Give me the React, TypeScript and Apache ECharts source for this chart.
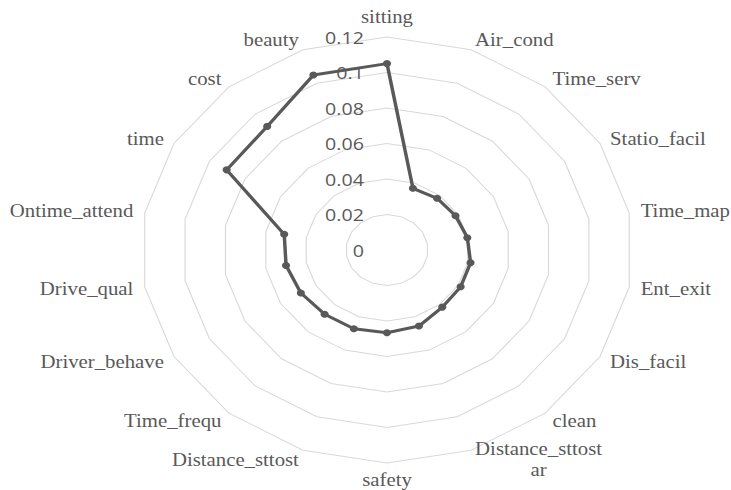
import React, { useEffect, useRef } from 'react';
import * as echarts from 'echarts';

// Categories listed clockwise starting from the top of the chart
const CATEGORIES = [
  'sitting', 'Air_cond', 'Time_serv', 'Statio_facil', 'Time_map', 'Ent_exit',
  'Dis_facil', 'clean', 'Distance_sttostar', 'safety', 'Distance_sttost', 'Time_frequ',
  'Driver_behave', 'Drive_qual', 'Ontime_attend', 'time', 'cost', 'beauty',
];
const VALUES = [
  0.105, 0.037, 0.038, 0.0386, 0.0398, 0.0414,
  0.0415, 0.042, 0.0456, 0.0466, 0.0472, 0.0473,
  0.0485, 0.05, 0.0509, 0.0903, 0.0909, 0.1049,
];
const TICKS = [0, 0.02, 0.04, 0.06, 0.08, 0.1, 0.12];
const TICK_LABELS = ['0', '0.02', '0.04', '0.06', '0.08', '0.1', '0.12'];

const STRETCH = 1.155;
const W = 731;
const H = 490;
const WRAP = 15;

export default function App() {
  const ref = useRef<HTMLDivElement>(null);
  useEffect(() => {
    if (!ref.current) return;
    const chart = echarts.init(ref.current, null, { renderer: 'svg' });
    // ECharts radar runs counter-clockwise: reorder so the layout reads clockwise
    const order = [0, ...CATEGORIES.map((_, i) => i).slice(1).reverse()];
    const bottomName = CATEGORIES[CATEGORIES.length / 2];
    const max = TICKS[TICKS.length - 1];
    const indicator = order.map((i, k) => {
      const ind: any = { name: CATEGORIES[i], min: 0, max };
      if (k === 0) {
        ind.axisLabel = {
          show: true,
          color: '#595959',
          fontFamily: 'Open Sans',
          fontSize: 17,
          margin: 20,
          formatter: (v: number) => {
            const idx = TICKS.findIndex((t) => Math.abs(t - v) < 1e-9);
            return idx >= 0 ? TICK_LABELS[idx] : '';
          },
        };
      }
      return ind;
    });
    const nameStyle = {
      color: '#595959',
      fontFamily: 'Liberation Serif',
      fontSize: 18,
      lineHeight: 21,
    };
    chart.setOption({
      animation: false,
      radar: {
        center: [387 / STRETCH, 250],
        radius: 213,
        startAngle: 90,
        splitNumber: TICKS.length - 1,
        shape: 'polygon',
        nameGap: 10,
        axisName: {
          ...nameStyle,
          rich: {
            w: { ...nameStyle, align: 'center' },
            b: { ...nameStyle, lineHeight: 14 },
          },
          formatter: (name: string) => {
            if (name.length > WRAP) {
              return '{w|' + name.slice(0, WRAP) + '}\n{w|' + name.slice(WRAP) + '}';
            }
            if (name === bottomName) return '{b|' + name + '}';
            return name;
          },
        },
        axisLine: { show: false },
        axisTick: { show: false },
        axisLabel: { show: false },
        splitLine: { lineStyle: { color: '#d9d9d9', width: 1 } },
        splitArea: { show: false },
        indicator,
      },
      series: [
        {
          type: 'radar',
          symbol: 'circle',
          symbolSize: 7,
          lineStyle: { color: '#595959', width: 3 },
          itemStyle: { color: '#595959' },
          data: [{ value: order.map((i) => VALUES[i]) }],
        },
      ],
    });
    return () => chart.dispose();
  }, []);

  return (
    <div
      style={{
        position: 'absolute',
        left: 0,
        top: 0,
        width: W,
        height: H,
        overflow: 'hidden',
        background: '#fff',
      }}
    >
      <div
        ref={ref}
        style={{
          width: W / STRETCH,
          height: H,
          transform: `scaleX(${STRETCH})`,
          transformOrigin: '0 0',
        }}
      />
    </div>
  );
}
